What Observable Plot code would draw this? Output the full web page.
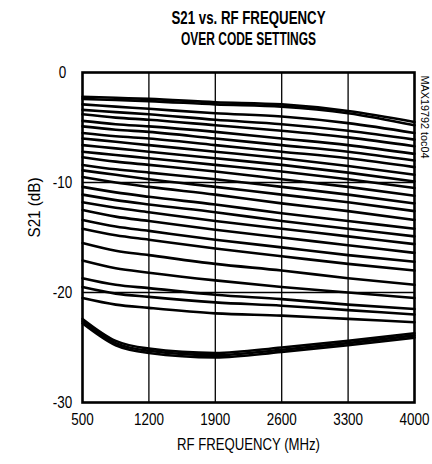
<!DOCTYPE html>
<html>
<head>
<meta charset="utf-8">
<script src="https://cdn.jsdelivr.net/npm/d3@7"></script>
<script src="https://cdn.jsdelivr.net/npm/@observablehq/plot@0.6"></script>
<style>
  html, body { margin: 0; padding: 0; background: #fff; }
  svg { display: block; }
</style>
</head>
<body>
<div id="chart"></div>
<script>
const FONT = '"Liberation Sans", Arial, Helvetica, sans-serif';

// RF frequency sample points (MHz)
const freqMHz = [500, 850, 1200, 1900, 2600, 3300, 4000];

// S21 (dB) per code setting, one row per curve
const s21ByCode = [
  [-2.2, -2.3, -2.4, -2.7, -2.9, -3.5, -4.5],
  [-2.4, -2.5, -2.6, -2.9, -3.1, -3.7, -4.8],
  [-2.9, -3.1, -3.3, -3.7, -4.0, -4.6, -5.5],
  [-3.4, -3.6, -3.8, -4.3, -4.7, -5.3, -6.1],
  [-3.8, -4.1, -4.3, -4.8, -5.3, -5.9, -6.7],
  [-4.4, -4.7, -4.9, -5.4, -6.0, -6.6, -7.4],
  [-4.9, -5.2, -5.4, -6.0, -6.6, -7.2, -8.0],
  [-5.5, -5.8, -6.0, -6.6, -7.2, -7.8, -8.6],
  [-6.0, -6.3, -6.6, -7.2, -7.8, -8.5, -9.3],
  [-6.6, -6.9, -7.2, -7.8, -8.4, -9.1, -9.9],
  [-7.2, -7.5, -7.8, -8.4, -9.0, -9.7, -10.5],
  [-7.7, -8.1, -8.4, -9.0, -9.7, -10.4, -11.2],
  [-8.4, -8.8, -9.1, -9.7, -10.4, -11.1, -11.9],
  [-8.9, -9.3, -9.7, -10.4, -11.1, -11.8, -12.6],
  [-9.5, -10.0, -10.4, -11.1, -11.9, -12.6, -13.4],
  [-10.4, -10.9, -11.3, -12.0, -12.8, -13.5, -14.2],
  [-11.1, -11.6, -12.0, -12.7, -13.5, -14.2, -14.9],
  [-11.8, -12.3, -12.7, -13.5, -14.2, -14.9, -15.6],
  [-12.5, -13.1, -13.5, -14.3, -15.0, -15.7, -16.4],
  [-13.4, -14.0, -14.4, -15.2, -15.9, -16.6, -17.2],
  [-14.2, -14.8, -15.2, -16.0, -16.7, -17.4, -18.0],
  [-15.5, -16.2, -16.6, -17.4, -18.0, -18.7, -19.3],
  [-17.1, -17.8, -18.2, -18.9, -19.5, -20.0, -20.5],
  [-18.7, -19.3, -19.6, -20.2, -20.6, -21.1, -21.5],
  [-19.5, -20.1, -20.4, -20.9, -21.2, -21.6, -22.0],
  [-20.5, -21.1, -21.4, -21.9, -22.1, -22.4, -22.7],
  [-22.4, -24.4, -25.1, -25.5, -25.0, -24.4, -23.7],
  [-22.6, -24.6, -25.3, -25.7, -25.2, -24.6, -23.9],
  [-22.8, -24.8, -25.5, -25.9, -25.4, -24.8, -24.1]
];

const xTicks = [500, 1200, 1900, 2600, 3300, 4000];
const yTicks = [0, -10, -20, -30];
const xGrid = [1200, 1900, 2600, 3300];
const yGrid = [-10, -20];

const titleLines = ["S21 vs. RF FREQUENCY", "OVER CODE SETTINGS"];
const xLabel = "RF FREQUENCY (MHz)";
const yLabel = "S21 (dB)";
const tocLabel = "MAX19792 toc04";

const rows = s21ByCode.flatMap((vals, code) =>
  vals.map((db, i) => ({code, freq: freqMHz[i], db}))
);

const chart = Plot.plot({
  width: 432,
  height: 464,
  marginLeft: 82,
  marginRight: 18,
  marginTop: 72,
  marginBottom: 62,
  style: {fontFamily: FONT, fontSize: "16px", color: "#000", background: "#fff"},
  x: {domain: [500, 4000]},
  y: {domain: [-30, 0]},
  marks: [
    Plot.ruleX(xGrid, {stroke: "#000", strokeWidth: 1.3}),
    Plot.ruleY(yGrid, {stroke: "#000", strokeWidth: 1.3}),
    Plot.line(rows, {
      x: "freq", y: "db", z: "code",
      stroke: "#000", strokeWidth: 2.6, curve: "monotone-x"
    }),
    Plot.frame({stroke: "#000", strokeWidth: 2.6}),
    Plot.axisX({ticks: xTicks, tickSize: 0, tickPadding: 11, label: null, fontSize: 16, tickFormat: d => String(d)}),
    Plot.axisY({ticks: yTicks, tickSize: 0, tickPadding: 20, textAnchor: "middle", label: null, fontSize: 16, tickFormat: d => d === 0 ? "0" : String(d)}),
    Plot.text([xLabel], {frameAnchor: "bottom", dy: 42, lineAnchor: "middle", fontSize: 16}),
    Plot.text([yLabel], {frameAnchor: "left", dx: -48, rotate: -90, lineAnchor: "middle", fontSize: 16}),
    Plot.text([titleLines[0]], {frameAnchor: "top", dy: -55, lineAnchor: "middle", fontSize: 19, fontWeight: "bold"}),
    Plot.text([titleLines[1]], {frameAnchor: "top", dy: -34, lineAnchor: "middle", fontSize: 19, fontWeight: "bold"}),
    Plot.text([tocLabel], {frameAnchor: "top-right", dx: 10, dy: 3, rotate: 90, textAnchor: "start", lineAnchor: "middle", fontSize: 11})
  ]
});

document.getElementById("chart").appendChild(chart);

// Condense the glyphs horizontally to mimic the narrow typeface of the reference
const fixedLengths = new Map([
  [titleLines[0], 154],
  [titleLines[1], 135],
  [xLabel, 143],
  [yLabel, 60],
  [tocLabel, 83]
]);
chart.querySelectorAll("text").forEach(t => {
  const s = t.textContent;
  const len = t.getComputedTextLength();
  if (!len) return;
  const target = fixedLengths.has(s) ? fixedLengths.get(s) : len * 0.84;
  t.setAttribute("textLength", target.toFixed(1));
  t.setAttribute("lengthAdjust", "spacingAndGlyphs");
});
</script>
</body>
</html>
